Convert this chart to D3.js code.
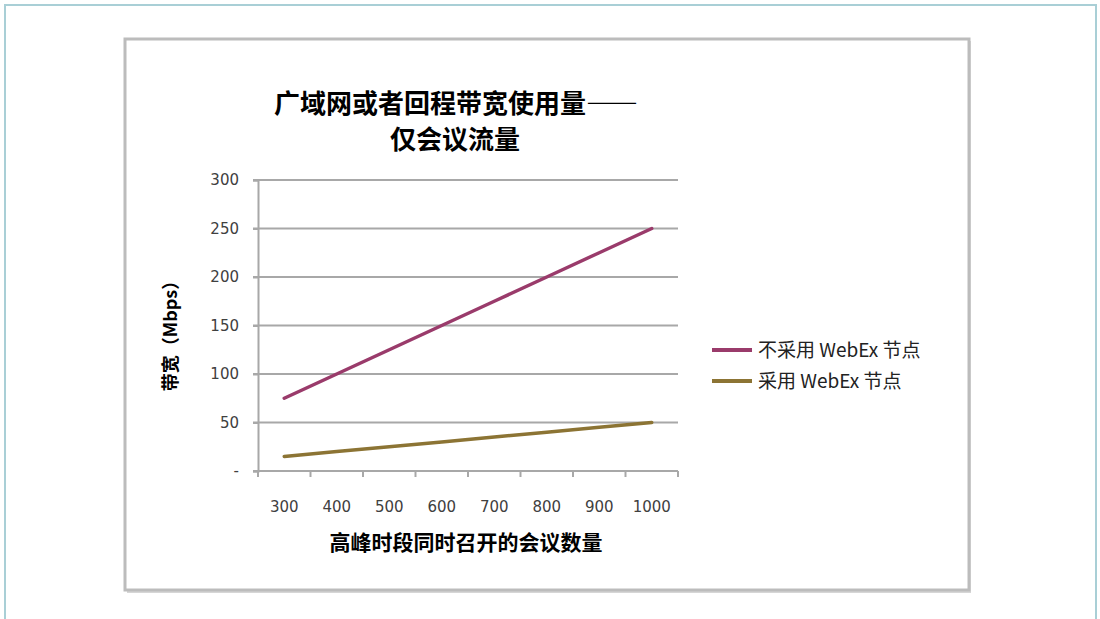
<!DOCTYPE html>
<html lang="zh">
<head>
<meta charset="UTF-8">
<title>广域网或者回程带宽使用量</title>
<script src="https://d3js.org/d3.v7.min.js"></script>
<style>
    body { margin: 0; background: #fff; }
    svg { display: block; }
</style>
</head>
<body>
<svg id="chart" width="1100" height="619"></svg>
<script>
    // data
    const meetings = ["300", "400", "500", "600", "700", "800", "900", "1000"];
    const withoutNode = [75, 100, 125, 150, 175, 200, 225, 250];
    const withNode = [15, 20, 25, 30, 35, 40, 45, 50];
    const yTicks = [0, 50, 100, 150, 200, 250, 300];
    const seriesNames = ["不采用 WebEx 节点", "采用 WebEx 节点"];
    const seriesColors = ["#9a3b6b", "#8c7434"];

    const svg = d3.select("#chart");
    const cjk = "'Noto Sans CJK SC', 'Noto Sans', sans-serif";

    // outer page frame
    svg.append("path")
        .attr("d", "M5,619 V5 H1096 V619")
        .attr("fill", "none")
        .attr("stroke", "#a9cfd6")
        .attr("stroke-width", 2);

    // chart frame with a soft shadow
    svg.append("rect")
        .attr("x", 127).attr("y", 41).attr("width", 844).attr("height", 552)
        .attr("fill", "#d6d6d6");
    svg.append("rect")
        .attr("x", 125).attr("y", 39).attr("width", 844).attr("height", 551)
        .attr("fill", "#fff")
        .attr("stroke", "#bcbcbc")
        .attr("stroke-width", 3);

    const plot = { left: 258, right: 678, top: 180, bottom: 471 };

    const x = d3.scaleBand().domain(meetings).range([plot.left, plot.right]);
    const y = d3.scaleLinear().domain([0, 300]).range([plot.bottom, plot.top]);

    // grid lines
    svg.append("g")
        .selectAll("line")
        .data(yTicks.filter(d => d > 0))
        .join("line")
        .attr("x1", plot.left - 5).attr("x2", plot.right)
        .attr("y1", d => y(d)).attr("y2", d => y(d))
        .attr("stroke", "#a8a8a8")
        .attr("stroke-width", 2);

    // y axis
    const yAxis = svg.append("g")
        .attr("transform", `translate(${plot.left},0)`)
        .call(d3.axisLeft(y).tickValues(yTicks).tickSize(5).tickPadding(14)
            .tickFormat(d => d === 0 ? "-" : d));
    yAxis.select(".domain").attr("stroke", "#a8a8a8").attr("stroke-width", 2);
    yAxis.selectAll(".tick line").attr("stroke", "#a8a8a8").attr("stroke-width", 2);
    yAxis.selectAll("text")
        .attr("font-family", "'DejaVu Sans', sans-serif")
        .attr("font-size", 15)
        .attr("fill", "#404040");

    // x axis: category ticks sit between the bands
    const xAxis = svg.append("g")
        .attr("transform", `translate(0,${plot.bottom})`);
    xAxis.append("line")
        .attr("x1", plot.left - 5).attr("x2", plot.right)
        .attr("stroke", "#a8a8a8").attr("stroke-width", 2);
    const bounds = meetings.map(d => x(d)).concat([x(meetings[meetings.length - 1]) + x.bandwidth()]);
    xAxis.selectAll(".tk")
        .data(bounds)
        .join("line")
        .attr("class", "tk")
        .attr("x1", d => d).attr("x2", d => d)
        .attr("y1", 0).attr("y2", 6)
        .attr("stroke", "#a8a8a8").attr("stroke-width", 2);
    xAxis.selectAll("text")
        .data(meetings)
        .join("text")
        .attr("x", d => x(d) + x.bandwidth() / 2)
        .attr("y", 41)
        .attr("text-anchor", "middle")
        .attr("font-family", "'DejaVu Sans', sans-serif")
        .attr("font-size", 15)
        .attr("fill", "#404040")
        .text(d => d);

    // lines
    const line = d3.line()
        .x((d, i) => x(meetings[i]) + x.bandwidth() / 2)
        .y(d => y(d));

    [withoutNode, withNode].forEach((vals, k) => {
        svg.append("path")
            .datum(vals)
            .attr("d", line)
            .attr("fill", "none")
            .attr("stroke", seriesColors[k])
            .attr("stroke-width", 3.5)
            .attr("stroke-linecap", "round");
    });

    // title
    const title = svg.append("text")
        .attr("text-anchor", "middle")
        .attr("font-family", cjk)
        .attr("font-weight", 700)
        .attr("font-size", 26)
        .attr("fill", "#000");
    title.append("tspan").attr("x", 456).attr("y", 113).text("广域网或者回程带宽使用量——");
    title.append("tspan").attr("x", 455).attr("y", 149).text("仅会议流量");

    // axis titles
    svg.append("text")
        .attr("transform", `translate(177,${(plot.top + plot.bottom) / 2 + 6}) rotate(-90)`)
        .attr("text-anchor", "middle")
        .attr("font-family", cjk)
        .attr("font-weight", 700)
        .attr("font-size", 18)
        .text("带宽（Mbps）");

    svg.append("text")
        .attr("x", 466).attr("y", 550)
        .attr("text-anchor", "middle")
        .attr("font-family", cjk)
        .attr("font-weight", 700)
        .attr("font-size", 21)
        .text("高峰时段同时召开的会议数量");

    // legend
    const legend = svg.append("g").attr("transform", "translate(712,350)");
    seriesNames.forEach((name, i) => {
        const g = legend.append("g").attr("transform", `translate(0,${i * 31})`);
        g.append("line")
            .attr("x1", 0).attr("x2", 40)
            .attr("stroke", seriesColors[i])
            .attr("stroke-width", 4);
        g.append("text")
            .attr("x", 46).attr("y", 7)
            .attr("font-family", cjk)
            .attr("font-size", 19)
            .attr("fill", "#222")
            .text(name);
    });
</script>
</body>
</html>
